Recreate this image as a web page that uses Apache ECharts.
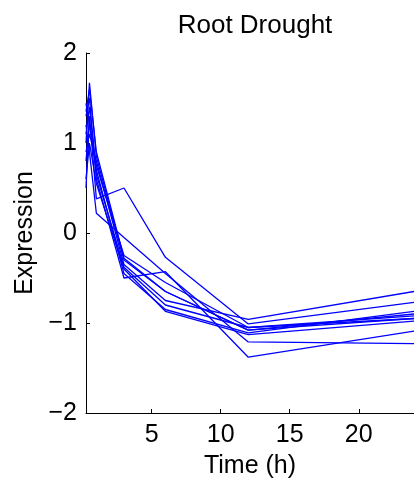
<!DOCTYPE html>
<html>
<head>
<meta charset="utf-8">
<script src="https://cdn.jsdelivr.net/npm/echarts@6/dist/echarts.min.js"></script>
<style>html,body{margin:0;padding:0;background:#fff}#c{width:414px;height:487px}</style>
</head>
<body>
<div id="c"></div>
<script>
const times = [0.25, 0.5, 1, 3, 6, 12, 24];
const xTicks = [5, 10, 15, 20];
const yTicks = [-2, -1, 0, 1, 2];
const s1 = [1.44, 1.20, 0.75, -0.25, -0.55, -1.05, -0.92];
const s2 = [1.00, 1.67, 0.85, -0.30, -0.65, -1.08, -0.95];
const s3 = [0.50, 1.30, 0.38, 0.50, -0.27, -1.01, -0.77];
const s4 = [1.20, 0.90, 0.22, -0.05, -0.45, -1.21, -1.23];
const s5 = [1.30, 1.50, 0.60, -0.50, -0.43, -1.38, -1.09];
const s6 = [0.90, 1.10, 0.80, -0.35, -0.75, -0.96, -0.65];
const s7 = [1.10, 1.40, 0.70, -0.45, -0.85, -1.11, -0.87];
const s8 = [0.60, 1.00, 0.55, -0.40, -0.87, -1.13, -0.98];
const s9 = [1.35, 1.60, 0.90, -0.28, -0.65, -1.08, -0.90];
const s10 = [0.80, 1.25, 0.65, -0.38, -0.80, -1.05, -0.95];
const allSeries = [s1, s2, s3, s4, s5, s6, s7, s8, s9, s10];

const FONT = 'Liberation Sans, Arial, Helvetica, sans-serif';
const chart = echarts.init(document.getElementById('c'), null, {renderer: 'canvas'});
chart.setOption({
  animation: false,
  backgroundColor: '#fff',
  title: {
    text: 'Root Drought', left: 250, top: 8, textAlign: 'center',
    textStyle: {fontFamily: FONT, fontSize: 26, fontWeight: 'normal', color: '#000'}
  },
  grid: {left: 86, right: 0, top: 53, bottom: 74},
  xAxis: {
    type: 'value', min: 0.25, max: 24,
    name: 'Time (h)', nameLocation: 'middle', nameGap: 41,
    nameTextStyle: {fontFamily: FONT, fontSize: 25, color: '#000'},
    axisLine: {show: true, onZero: false, lineStyle: {color: '#000', width: 1}},
    axisTick: {show: true, inside: true, length: 4, customValues: xTicks, lineStyle: {color: '#000'}},
    axisLabel: {customValues: xTicks, fontFamily: FONT, fontSize: 25, color: '#000', margin: 10},
    splitLine: {show: false}
  },
  yAxis: {
    type: 'value', min: -2, max: 2, interval: 1,
    name: 'Expression', nameLocation: 'middle', nameGap: 48, nameRotate: 90,
    nameTextStyle: {fontFamily: FONT, fontSize: 25, color: '#000'},
    axisLine: {show: true, lineStyle: {color: '#000', width: 1}},
    axisTick: {show: true, inside: true, length: 4, lineStyle: {color: '#000'}},
    axisLabel: {fontFamily: FONT, fontSize: 25, color: '#000', margin: 9,
      formatter: v => (v < 0 ? '\u2212' + Math.abs(v) : String(v))},
    splitLine: {show: false}
  },
  series: allSeries.map(s => ({
    type: 'line',
    data: times.map((t, i) => [t, s[i]]),
    showSymbol: false, symbol: 'none',
    lineStyle: {color: '#0000ff', width: 1.3},
    silent: true
  }))
});
</script>
</body>
</html>
